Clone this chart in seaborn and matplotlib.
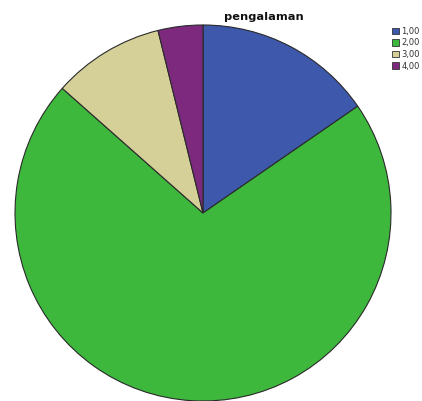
import matplotlib
matplotlib.use("Agg")
import matplotlib.pyplot as plt
import seaborn as sns
from matplotlib.patches import Patch

categories = ["1,00", "2,00", "3,00", "4,00"]
counts = [8, 37, 5, 2]
colors = ["#3E58AC", "#3DB83D", "#D5CF98", "#7D2A7E"]

sns.set_style("white")
plt.rcParams['font.family'] = ['DejaVu Sans']

fig = plt.figure(figsize=(4.22, 4.01), dpi=100)
ax = fig.add_axes([15/422, 0, 376/422, 376/401])
ax.pie(counts, colors=colors, startangle=90, counterclock=False,
       wedgeprops=dict(edgecolor="#2a2a2a", linewidth=0.8), radius=1.0)
ax.set_xlim(-1.0, 1.0)
ax.set_ylim(-1.0, 1.0)
ax.set_aspect('equal')
ax.axis('off')

fig.text(264/422, 1 - 17/401, "pengalaman", ha='center', va='center',
         fontsize=8.2, fontweight='bold', color='#111111')

handles = [Patch(facecolor=c, edgecolor="#333333", linewidth=0.6) for c in colors]
fig.legend(handles, categories, loc='upper left', bbox_to_anchor=(392/422, 1 - 27/401),
           frameon=False, fontsize=6, handlelength=0.85, handleheight=0.85,
           handletextpad=0.25, labelspacing=0.3, borderpad=0, borderaxespad=0,
           labelcolor='#333333')

fig.savefig("out.png", dpi=100)
